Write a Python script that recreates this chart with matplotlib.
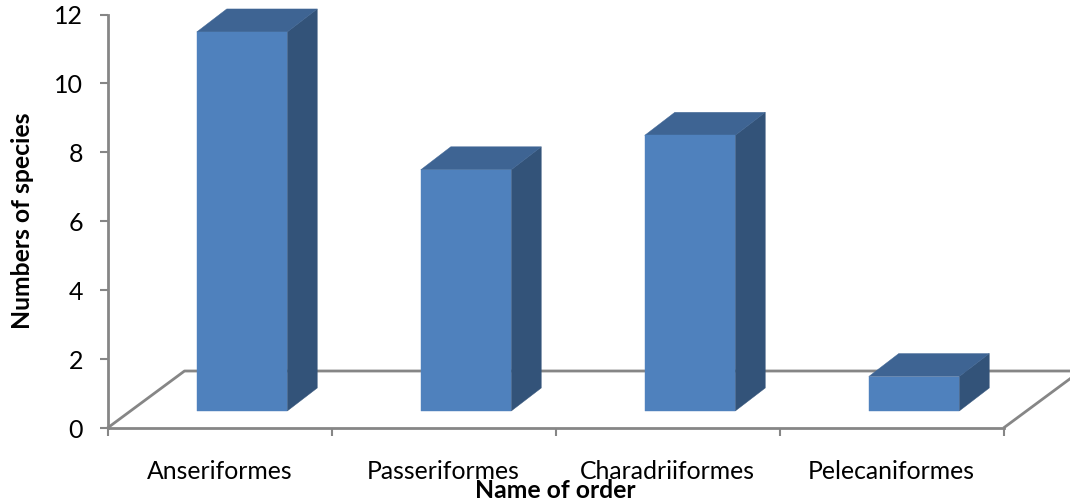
import matplotlib
matplotlib.use("Agg")
import matplotlib.pyplot as plt
from matplotlib.patches import Polygon

orders = ["Anseriformes", "Passeriformes", "Charadriiformes", "Pelecaniformes"]
species = [11, 7, 8, 1]
y_ticks = [0, 2, 4, 6, 8, 10, 12]

FIG_W, FIG_H = 1070, 504
LEFT, RIGHT, TOP, BOTTOM = 107.5, 1003.5, 14.5, 428.0
GREY = "#868686"
FRONT, ROOF, SIDE = "#4F81BD", "#3E6493", "#335379"

plt.rcParams["font.family"] = ["Lato", "DejaVu Sans"]
fig = plt.figure(figsize=(FIG_W / 100, FIG_H / 100), dpi=100)
ax = fig.add_axes([LEFT / FIG_W, 1 - BOTTOM / FIG_H,
                   (RIGHT - LEFT) / FIG_W, (BOTTOM - TOP) / FIG_H])
ax.set_xlim(0, len(orders))
ax.set_ylim(0, 12)
ax.patch.set_alpha(0)

unit_x = (RIGHT - LEFT) / len(orders)
unit_y = (BOTTOM - TOP) / 12

# Oblique projection: floor depth, bar depth and bar placement on the floor
floor_dx, floor_dy = 77 / unit_x, 57 / unit_y
bar_dx, bar_dy = 30 / unit_x, 23 / unit_y
bar_width = 90.5 / unit_x
bar_shift = 22.5 / unit_x
bar_base = 17 / unit_y

# Floor outline behind the bars
line_style = dict(color=GREY, lw=2.0, clip_on=False, zorder=1, solid_capstyle="butt")
ax.plot([0, floor_dx, len(orders) + floor_dx],
        [0, floor_dy, floor_dy], **line_style)
ax.plot([len(orders), len(orders) + floor_dx], [0, floor_dy], **line_style)

for i, value in enumerate(species):
    x0 = i + 0.5 + bar_shift - bar_width / 2
    x1 = x0 + bar_width
    y0, y1 = bar_base, bar_base + value
    faces = [
        ([(x1, y0), (x1 + bar_dx, y0 + bar_dy), (x1 + bar_dx, y1 + bar_dy), (x1, y1)], SIDE),
        ([(x0, y1), (x1, y1), (x1 + bar_dx, y1 + bar_dy), (x0 + bar_dx, y1 + bar_dy)], ROOF),
        ([(x0, y0), (x1, y0), (x1, y1), (x0, y1)], FRONT),
    ]
    for verts, colour in faces:
        ax.add_patch(Polygon(verts, closed=True, facecolor=colour, edgecolor=colour,
                             lw=0.3, clip_on=False, zorder=3))

for side in ("top", "right"):
    ax.spines[side].set_visible(False)
for side in ("left", "bottom"):
    ax.spines[side].set_color(GREY)
    ax.spines[side].set_linewidth(2.0)
    ax.spines[side].set_zorder(2)

ax.set_yticks(y_ticks)
ax.set_xticks(range(len(orders) + 1))
ax.set_xticklabels([])
ax.set_xticks([i + 0.5 for i in range(len(orders))], orders, minor=True)
ax.tick_params(axis="y", length=6, width=1.5, color=GREY, pad=11.5, labelsize=18)
ax.tick_params(axis="x", which="major", length=6, width=1.5, color=GREY)
ax.tick_params(axis="x", which="minor", length=0, pad=23, labelsize=17.8)

fig.text(22.5 / FIG_W, 1 - 221 / FIG_H, "Numbers of species", rotation=90,
         ha="center", va="center", fontsize=17.8, fontweight="bold")
fig.text(555.5 / FIG_W, 1 - 490 / FIG_H, "Name of order",
         ha="center", va="center", fontsize=17.8, fontweight="bold")

fig.savefig("out.png", dpi=100)
